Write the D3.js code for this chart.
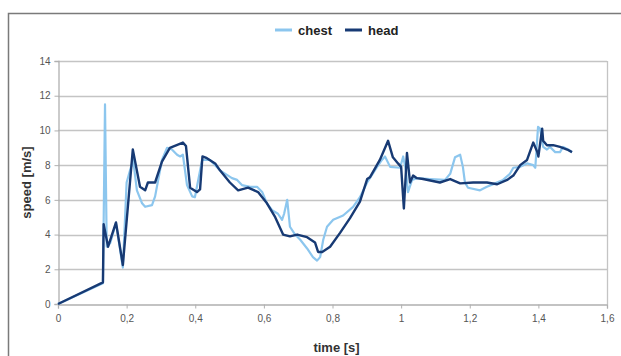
<!DOCTYPE html>
<html>
<head>
<meta charset="utf-8">
<script src="https://cdn.jsdelivr.net/npm/d3@7"></script>
<style>
  html, body { margin: 0; padding: 0; background: #fff; }
  svg { display: block; }
</style>
</head>
<body>
<svg id="chart" width="621" height="356"></svg>
<script>
// Measured speed of chest and head markers over time
const chestTime = [0, 0.131, 0.137, 0.142, 0.152, 0.169, 0.189, 0.200, 0.210, 0.219, 0.230, 0.245, 0.254, 0.274, 0.283, 0.303, 0.318, 0.332, 0.347, 0.356, 0.364, 0.376, 0.391, 0.399, 0.420, 0.443, 0.472, 0.507, 0.522, 0.536, 0.560, 0.580, 0.595, 0.609, 0.624, 0.641, 0.653, 0.659, 0.668, 0.676, 0.691, 0.706, 0.726, 0.743, 0.755, 0.764, 0.773, 0.784, 0.802, 0.831, 0.860, 0.880, 0.901, 0.930, 0.944, 0.953, 0.968, 0.997, 1.006, 1.014, 1.020, 1.032, 1.046, 1.084, 1.128, 1.143, 1.157, 1.172, 1.180, 1.186, 1.195, 1.230, 1.250, 1.274, 1.297, 1.317, 1.327, 1.347, 1.367, 1.385, 1.391, 1.399, 1.405, 1.414, 1.425, 1.434, 1.449, 1.463, 1.472, 1.487, 1.498];
const chestSpeed = [0, 1.2, 11.5, 3.3, 3.5, 4.65, 2.1, 7.0, 7.7, 8.3, 6.55, 5.8, 5.6, 5.7, 6.2, 8.3, 9.0, 8.9, 8.6, 8.5, 8.6, 6.85, 6.2, 6.15, 8.3, 8.3, 7.7, 7.25, 7.15, 6.85, 6.75, 6.75, 6.45, 5.8, 5.4, 5.2, 4.85, 5.2, 6.0, 4.45, 4.0, 3.7, 3.2, 2.7, 2.5, 2.7, 3.7, 4.45, 4.85, 5.1, 5.6, 6.15, 7.0, 7.9, 8.3, 8.5, 7.9, 7.85, 8.5, 7.7, 6.45, 7.15, 7.25, 7.2, 7.15, 7.5, 8.45, 8.6, 7.9, 7.0, 6.7, 6.55, 6.75, 6.95, 7.15, 7.5, 7.85, 7.9, 8.1, 8.0, 7.85, 10.2, 10.1, 9.05, 8.9, 9.05, 8.75, 8.75, 9.05, 8.9, 8.75];

const headTime = [0, 0.131, 0.133, 0.146, 0.169, 0.189, 0.218, 0.239, 0.254, 0.262, 0.283, 0.303, 0.326, 0.364, 0.373, 0.385, 0.405, 0.414, 0.421, 0.434, 0.458, 0.472, 0.501, 0.525, 0.554, 0.583, 0.609, 0.633, 0.656, 0.676, 0.697, 0.726, 0.749, 0.758, 0.770, 0.793, 0.822, 0.851, 0.880, 0.901, 0.909, 0.938, 0.962, 0.976, 0.991, 1.000, 1.008, 1.017, 1.026, 1.035, 1.046, 1.064, 1.113, 1.143, 1.172, 1.210, 1.250, 1.280, 1.309, 1.327, 1.347, 1.367, 1.385, 1.397, 1.400, 1.411, 1.414, 1.425, 1.443, 1.463, 1.484, 1.498];
const headSpeed = [0, 1.25, 4.6, 3.3, 4.7, 2.25, 8.9, 6.75, 6.55, 7.0, 7.0, 8.2, 9.0, 9.3, 9.1, 6.7, 6.45, 6.6, 8.5, 8.4, 8.1, 7.7, 7.0, 6.55, 6.7, 6.45, 5.8, 5.0, 4.0, 3.9, 4.0, 3.85, 3.55, 3.0, 3.0, 3.3, 4.1, 4.95, 5.9, 7.2, 7.3, 8.3, 9.4, 8.45, 8.1, 7.9, 5.5, 8.7, 7.0, 7.4, 7.25, 7.2, 7.0, 7.2, 6.95, 7.0, 7.0, 6.9, 7.15, 7.4, 8.0, 8.3, 9.3, 8.75, 8.5, 10.1, 9.4, 9.15, 9.15, 9.05, 8.9, 8.75];

const xTicks = [0, 0.2, 0.4, 0.6, 0.8, 1, 1.2, 1.4, 1.6];
const yTicks = [0, 2, 4, 6, 8, 10, 12, 14];
const seriesNames = ["chest", "head"];
const seriesColors = ["#8cc6ee", "#173a74"];

const svg = d3.select("#chart");
const W = 621, H = 356;
const plot = { left: 58, right: 607, top: 61, bottom: 304 };

// Outer chart frame (continues past the right and bottom edges)
svg.append("rect")
  .attr("x", 8.5).attr("y", 13.5)
  .attr("width", 700).attr("height", 400)
  .attr("fill", "#fff")
  .attr("stroke", "#7a7a7a").attr("stroke-width", 1.5);

const x = d3.scaleLinear().domain([0, 1.6]).range([plot.left, plot.right]);
const y = d3.scaleLinear().domain([0, 14]).range([plot.bottom, plot.top]);

const fmt = d => String(d).replace(".", ",");

// Horizontal gridlines
svg.append("g")
  .selectAll("line")
  .data(yTicks.filter(d => d > 0))
  .join("line")
  .attr("x1", plot.left).attr("x2", plot.right)
  .attr("y1", d => Math.round(y(d)) + 0.5).attr("y2", d => Math.round(y(d)) + 0.5)
  .attr("stroke", "#c4c4c4").attr("stroke-width", 1.3);

// Right edge of the plot area
svg.append("line")
  .attr("x1", plot.right + 0.5).attr("x2", plot.right + 0.5)
  .attr("y1", plot.top).attr("y2", plot.bottom)
  .attr("stroke", "#c4c4c4").attr("stroke-width", 1.3);

// Axes
const xAxis = d3.axisBottom(x).tickValues(xTicks).tickFormat(fmt).tickSize(4).tickPadding(6);
const yAxis = d3.axisLeft(y).tickValues(yTicks).tickFormat(fmt).tickSize(4).tickPadding(4);

const gx = svg.append("g")
  .attr("transform", `translate(0,${plot.bottom + 0.5})`)
  .call(xAxis);
const gy = svg.append("g")
  .attr("transform", `translate(${plot.left + 0.5},0)`)
  .call(yAxis);

[gx, gy].forEach(g => {
  g.select(".domain").attr("stroke", "#b0b0b0").attr("stroke-width", 1.3);
  g.selectAll(".tick line").attr("stroke", "#b0b0b0");
  g.selectAll(".tick text")
    .attr("fill", "#555")
    .style("font-family", "'Liberation Sans', Arial, sans-serif")
    .style("font-size", "10px");
});

// Series lines: chest first, head drawn above it
const line = d3.line().x(d => x(d[0])).y(d => y(d[1]));
const chestData = chestTime.map((t, i) => [t, chestSpeed[i]]);
const headData = headTime.map((t, i) => [t, headSpeed[i]]);

svg.append("path")
  .datum(chestData)
  .attr("d", line)
  .attr("fill", "none")
  .attr("stroke", seriesColors[0])
  .attr("stroke-width", 2.2)
  .attr("stroke-linejoin", "round");

svg.append("path")
  .datum(headData)
  .attr("d", line)
  .attr("fill", "none")
  .attr("stroke", seriesColors[1])
  .attr("stroke-width", 2.4)
  .attr("stroke-linejoin", "round");

// Axis titles
const titleFont = "'Liberation Sans', Arial, sans-serif";
svg.append("text")
  .attr("x", (plot.left + plot.right) / 2 + 4)
  .attr("y", 352)
  .attr("text-anchor", "middle")
  .style("font-family", titleFont)
  .style("font-size", "13px")
  .style("font-weight", "bold")
  .attr("fill", "#333")
  .text("time [s]");

svg.append("text")
  .attr("transform", `translate(31,${(plot.top + plot.bottom) / 2}) rotate(-90)`)
  .attr("text-anchor", "middle")
  .style("font-family", titleFont)
  .style("font-size", "13px")
  .style("font-weight", "bold")
  .attr("fill", "#333")
  .text("speed [m/s]");

// Legend
const legend = svg.append("g").attr("transform", "translate(275,30)");
const legendItems = [
  { name: seriesNames[0], color: seriesColors[0], offset: 0 },
  { name: seriesNames[1], color: seriesColors[1], offset: 70 }
];
legendItems.forEach(item => {
  const g = legend.append("g").attr("transform", `translate(${item.offset},0)`);
  g.append("line")
    .attr("x1", 0).attr("x2", 17).attr("y1", 0).attr("y2", 0)
    .attr("stroke", item.color).attr("stroke-width", 3);
  g.append("text")
    .attr("x", 23).attr("y", 5)
    .style("font-family", titleFont)
    .style("font-size", "13px")
    .style("font-weight", "bold")
    .attr("fill", "#222")
    .text(item.name);
});
</script>
</body>
</html>
